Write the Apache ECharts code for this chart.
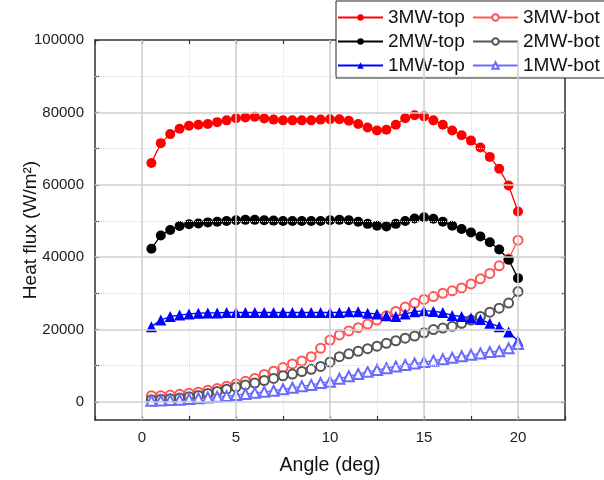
<!DOCTYPE html>
<html>
<head>
<meta charset="utf-8">
<script src="https://cdn.jsdelivr.net/npm/echarts@6/dist/echarts.min.js"></script>
<style>html,body{margin:0;padding:0;background:#fff;}#c{width:604px;height:480px;}</style>
</head>
<body>
<div id="c"></div>
<script>
var angles = [0.5,1.0,1.5,2.0,2.5,3.0,3.5,4.0,4.5,5.0,5.5,6.0,6.5,7.0,7.5,8.0,8.5,9.0,9.5,10.0,
              10.5,11.0,11.5,12.0,12.5,13.0,13.5,14.0,14.5,15.0,15.5,16.0,16.5,17.0,17.5,18.0,18.5,19.0,19.5,20.0];
var top3MW = [66000,71500,74000,75500,76300,76600,76800,77300,77800,78400,78600,78800,78300,78000,77800,77800,77800,77800,78000,78100,
              78100,77700,76800,75800,75000,75200,76600,78400,79200,78900,77800,76600,75000,73700,72200,70300,67700,64400,59800,52600];
var bot3MW = [1700,1700,1900,2100,2400,2700,3200,3700,4300,5000,5700,6500,7600,8500,9500,10500,11300,12500,14800,17100,
              18500,19600,20500,21500,22600,23800,25000,26200,27300,28300,29100,30000,30700,31500,32600,34000,35500,37600,39500,44700];
var top2MW = [42300,46000,47500,48600,49100,49300,49600,49800,50000,50200,50300,50300,50200,50100,50000,50000,50000,50000,50000,50200,
              50300,50200,49800,49200,48700,48500,49200,50000,50700,51000,50600,49800,48700,47800,46800,45700,44100,42100,39300,34200];
var bot2MW = [600,700,900,1100,1400,1800,2300,2900,3500,4100,4700,5200,5900,6500,7200,7700,8400,9000,9800,11000,
              12500,13300,14000,14700,15400,16200,16900,17600,18200,19100,20000,20400,20900,21700,22600,23600,24800,25900,27300,30500];
var top1MW = [20800,22600,23600,24000,24300,24500,24600,24600,24700,24700,24700,24700,24700,24700,24700,24700,24700,24700,24700,24700,
              24700,24900,24900,24500,24300,23800,23600,24300,24900,25200,25000,24700,23900,23600,23200,22800,21700,20800,19300,16900];
var bot1MW = [300,400,500,600,800,1000,1200,1400,1600,1900,2200,2500,2800,3100,3500,3900,4300,4700,5200,5600,
              6400,7100,7700,8300,8800,9300,9800,10200,10600,11000,11400,11800,12200,12600,13000,13400,13800,14000,14800,16000];
var seriesNames = ['3MW-top','3MW-bot','2MW-top','2MW-bot','1MW-top','1MW-bot'];
var xMajorGrid = [0,5,10,15,20];
var yMajorGrid = [0,20000,40000,60000,80000];
var yMinorGrid = [10000,30000,50000,70000,90000];
var yTickValues = [0,10000,20000,30000,40000,50000,60000,70000,80000,90000,100000];
var yLabelValues = [0,20000,40000,60000,80000,100000];
var xLabelValues = [0,5,10,15,20];

function pairs(arr){ return angles.map(function(a,i){ return [a, arr[i]]; }); }

var FONT = "'Liberation Sans', Arial, sans-serif";
var axisLineStyle = {color:'#333', width:1.5};

var chart = echarts.init(document.getElementById('c'), null, {renderer:'canvas'});

function mkSeries(name, arr, color, symbol, size, filled){
  return {
    name: name, type:'line', data: pairs(arr), xAxisIndex:0, yAxisIndex:0,
    symbol: symbol, symbolSize: size, showAllSymbol:true,
    lineStyle:{color:color, width:1.3},
    itemStyle: filled ? {color:color, borderWidth:0} : {color:color, borderColor:color, borderWidth:1.2},
    emphasis:{disabled:true}, silent:true, z: 3
  };
}

var gridLines = [];
xMajorGrid.forEach(function(v){ gridLines.push({xAxis:v, lineStyle:{color:'#cfcfcf', width:1.5, type:'solid'}}); });
yMajorGrid.forEach(function(v){ gridLines.push({yAxis:v, lineStyle:{color:'#cfcfcf', width:1.5, type:'solid'}}); });
yMinorGrid.forEach(function(v){ gridLines.push({yAxis:v, lineStyle:{color:'#d8d8d8', width:1, type:'dotted'}}); });

var option = {
  animation:false,
  backgroundColor:'#fff',
  textStyle:{fontFamily:FONT},
  grid:{left:95, right:39, top:40, bottom:60, containLabel:false, outerBoundsMode:'none'},
  legend:{
    data: seriesNames,
    left:336, top:1, width:272,
    orient:'horizontal',
    itemWidth:45, itemHeight:8, itemGap:5,
    padding:[7,20,3,1],
    borderColor:'#222', borderWidth:1, backgroundColor:'#fff',
    selectedMode:false,
    textStyle:{fontSize:19, color:'#111', width:79, lineHeight:19, fontFamily:FONT}
  },
  xAxis:[
    {type:'value', position:'bottom', min:-2.5, max:22.5, interval:2.5,
     axisLine:{show:true, onZero:false, lineStyle:axisLineStyle},
     axisTick:{show:true, inside:true, length:4, lineStyle:{color:'#333', width:1.2}},
     axisLabel:{fontSize:15, color:'#222', margin:10, customValues:xLabelValues,
       formatter:function(v){ return (v % 5 === 0 && v >= 0 && v <= 20) ? String(v) : ''; }},
     splitLine:{show:true, lineStyle:{color:'#dcdcdc', width:1, type:'dotted'}},
     name:'Angle (deg)', nameLocation:'middle', nameGap:36, nameMoveOverlap:false,
     nameTextStyle:{fontSize:19.5, color:'#111', fontFamily:FONT}
    },
    {type:'value', position:'top', min:-2.5, max:22.5, interval:2.5,
     axisLine:{show:true, onZero:false, lineStyle:axisLineStyle},
     axisTick:{show:true, inside:true, length:4, lineStyle:{color:'#333', width:1.2}},
     axisLabel:{show:false}, splitLine:{show:false}}
  ],
  yAxis:[
    {type:'value', position:'left', min:-5000, max:100000, interval:5000,
     axisLine:{show:true, onZero:false, lineStyle:axisLineStyle},
     axisTick:{show:true, inside:true, length:4, customValues:yTickValues, lineStyle:{color:'#333', width:1.2}},
     axisLabel:{fontSize:15, color:'#222', margin:11, customValues:yLabelValues,
       formatter:function(v){ return (v % 20000 === 0 && v >= 0) ? String(v) : ''; }},
     splitLine:{show:false},
     name:'Heat flux (W/m²)', nameLocation:'middle', nameGap:55, nameRotate:90, nameMoveOverlap:false,
     nameTextStyle:{fontSize:19, color:'#111', fontFamily:FONT}
    },
    {type:'value', position:'right', min:-5000, max:100000, interval:5000,
     axisLine:{show:true, onZero:false, lineStyle:axisLineStyle},
     axisTick:{show:true, inside:true, length:4, customValues:yTickValues, lineStyle:{color:'#333', width:1.2}},
     axisLabel:{show:false}, splitLine:{show:false}}
  ],
  series:[
    {name:'grid', type:'line', data:[], z:1, silent:true,
     markLine:{silent:true, symbol:['none','none'], label:{show:false}, animation:false, data:gridLines}},
    mkSeries('3MW-top', top3MW, '#ff0000', 'circle', 10, true),
    mkSeries('3MW-bot', bot3MW, '#ff5555', 'emptyCircle', 9, false),
    mkSeries('2MW-top', top2MW, '#000000', 'circle', 10, true),
    mkSeries('2MW-bot', bot2MW, '#555555', 'emptyCircle', 9, false),
    mkSeries('1MW-top', top1MW, '#0000ff', 'triangle', 11, true),
    mkSeries('1MW-bot', bot1MW, '#6a6aff', 'emptyTriangle', 10, false)
  ]
};
chart.setOption(option);
</script>
</body>
</html>
